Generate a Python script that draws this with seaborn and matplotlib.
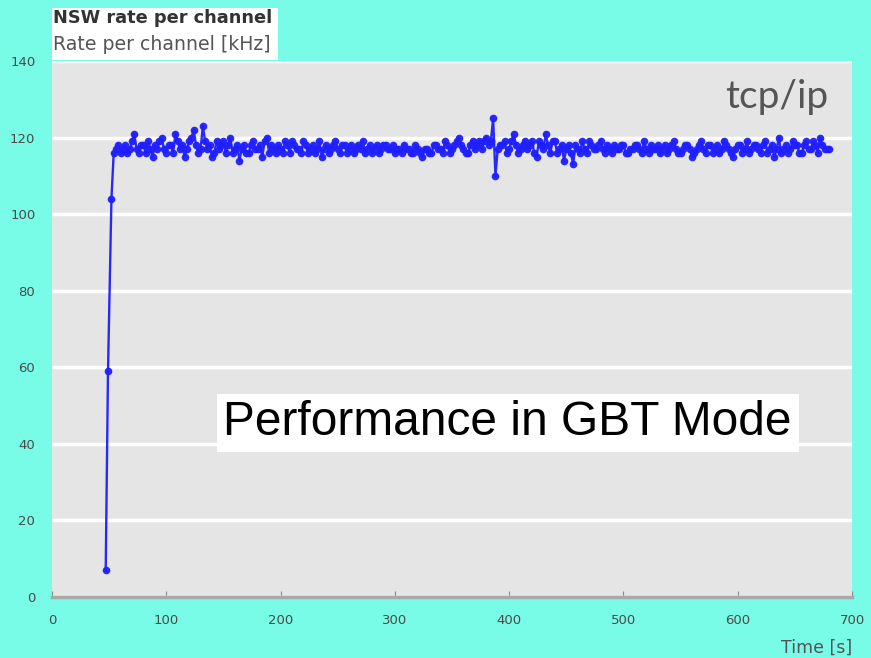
import matplotlib
matplotlib.use("Agg")
import matplotlib.pyplot as plt
import seaborn as sns
import pandas as pd
from matplotlib.patches import Rectangle

# ---- data ----
ramp_t = [47, 49, 52, 54]
ramp_v = [7, 59, 104, 116]
# samples at 56, 60, 64, ...
plateau_a_v = [
    117, 116, 118, 117, 121, 116, 118, 119, 115, 117,
    120, 116, 118, 121, 117, 115, 119, 122, 116, 123,
    117, 115, 119, 118, 116, 120, 117, 114, 118, 116,
    119, 117, 115, 120, 118, 116, 117, 119, 116, 118,
    117, 119, 116, 118, 117, 115, 118, 117, 119, 116,
    118, 117, 116, 118, 119, 117, 116, 118, 117, 118,
    117, 116, 117, 118, 117, 116, 117, 115, 117, 116,
    118, 117, 119, 116, 118, 120, 117, 116, 119, 118,
    117, 120, 119, 110, 118, 119, 117, 121, 116, 118,
    117, 119, 115, 118, 121, 116, 119, 117, 114, 118,
    113, 117, 119, 116, 118, 117, 119, 116, 117, 118,
    117, 118, 116, 117, 118, 116, 117, 118, 117, 116,
    118, 117, 119, 116, 117, 118, 115, 117, 119, 116,
    118, 117, 116, 119, 117, 115, 118, 116, 119, 117,
    118, 116, 119, 117, 115, 120, 117, 116, 119, 118,
    116, 119, 117, 118, 120, 117, 117,
]
# samples at 58, 62, 66, ...
plateau_b_v = [
    118, 117, 116, 119, 117, 118, 116, 117, 118, 119,
    117, 118, 116, 119, 118, 117, 120, 118, 117, 119,
    118, 116, 117, 119, 118, 116, 118, 117, 116, 118,
    117, 118, 119, 116, 117, 118, 116, 118, 119, 117,
    116, 118, 117, 116, 119, 117, 116, 118, 117, 118,
    116, 118, 117, 117, 116, 118, 117, 116, 118, 117,
    118, 117, 116, 117, 116, 118, 116, 117, 116, 118,
    117, 116, 118, 117, 119, 118, 116, 118, 117, 119,
    119, 118, 125, 117, 118, 116, 119, 118, 117, 119,
    118, 116, 119, 117, 118, 119, 116, 118, 117, 116,
    118, 116, 117, 119, 117, 118, 117, 118, 116, 117,
    118, 116, 117, 118, 117, 119, 116, 117, 118, 117,
    116, 118, 117, 116, 118, 117, 116, 118, 117, 118,
    116, 118, 117, 118, 116, 117, 118, 117, 116, 118,
    117, 118, 116, 118, 117, 116, 118, 117, 118, 116,
    118, 117, 119, 116, 118, 117,
]
plateau_a_t = [56 + 4 * i for i in range(len(plateau_a_v))]
plateau_b_t = [58 + 4 * i for i in range(len(plateau_b_v))]
x_ticks = [0, 100, 200, 300, 400, 500, 600, 700]
y_ticks = [0, 20, 40, 60, 80, 100, 120, 140]

df = pd.DataFrame({"t": ramp_t + plateau_a_t + plateau_b_t,
                   "rate": ramp_v + plateau_a_v + plateau_b_v}).sort_values("t")

# ---- figure ----
W, H = 871, 658
bg = "#78FCE7"
fig = plt.figure(figsize=(W / 100, H / 100), dpi=100, facecolor=bg)
ax = fig.add_axes([52 / W, (H - 597) / H, 800 / W, (597 - 61) / H])
ax.set_facecolor("#E5E5E5")

sns.lineplot(data=df, x="t", y="rate", ax=ax, color="#1E1EFF", lw=1.7,
             marker="o", markersize=5.5, markeredgewidth=0, alpha=0.95,
             sort=True)

ax.set_xlim(0, 700)
ax.set_ylim(0, 140)
ax.set_xticks(x_ticks)
ax.set_yticks(y_ticks)
ax.set_xlabel("")
ax.set_ylabel("")
ax.yaxis.grid(True, color="white", lw=2.5)
ax.xaxis.grid(False)
ax.set_axisbelow(True)
for s in ["top", "right", "left"]:
    ax.spines[s].set_visible(False)
ax.spines["bottom"].set_color("#A8A8A8")
ax.spines["bottom"].set_linewidth(2.5)
ax.tick_params(axis="x", direction="in", length=4, color="#888888",
               labelsize=9.5, labelcolor="#4A4A4A", pad=12)
ax.tick_params(axis="y", length=0, labelsize=9.5, labelcolor="#4A4A4A", pad=12)

# title box
fig.patches.append(Rectangle((52 / W, (H - 60) / H), (278 - 52) / W, 52 / H,
                             transform=fig.transFigure, facecolor="white",
                             edgecolor="none", zorder=0))
fig.text(53 / W, (H - 18) / H, "NSW rate per channel", fontsize=12.8,
         fontweight="bold", color="#333333", va="center", ha="left",
         family="DejaVu Sans")
fig.text(53 / W, (H - 44) / H, "Rate per channel [kHz]", fontsize=13.6,
         color="#555555", va="center", ha="left", family="DejaVu Sans")

fig.text(852 / W, (H - 648) / H, "Time [s]", fontsize=12.5, color="#555555",
         va="center", ha="right", family="DejaVu Sans")

# annotations
ax.text(0.97, 0.933, "tcp/ip", transform=ax.transAxes, fontsize=28,
        color="#555555", ha="right", va="center", family="Lato")
ax.text(150, 45.5, "Performance in GBT Mode", fontsize=34.5, color="black",
        ha="left", va="center", family="Liberation Sans",
        bbox=dict(facecolor="white", edgecolor="none", pad=5))

fig.savefig("out.png", dpi=100, facecolor=bg)
